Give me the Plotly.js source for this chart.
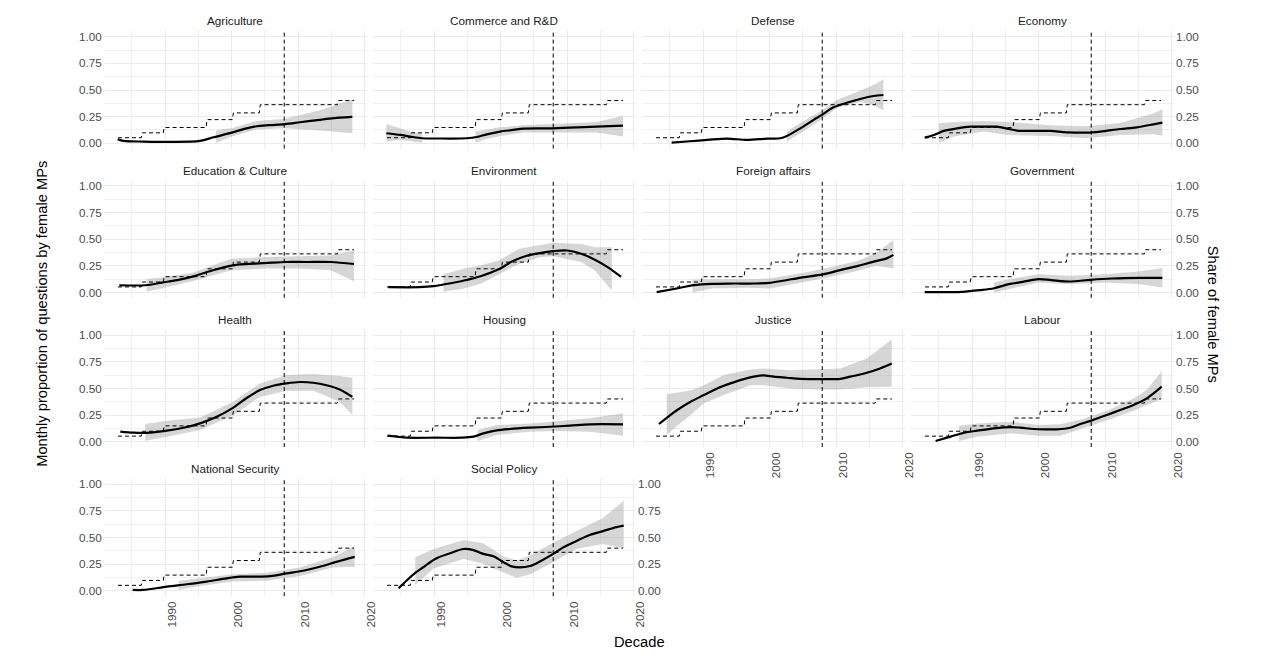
<!DOCTYPE html>
<html><head><meta charset="utf-8">
<script src="https://cdn.plot.ly/plotly-3.0.1.min.js"></script>
<style>html,body{margin:0;padding:0;background:#fff;} #chart{width:1280px;height:657px;}</style>
</head><body><div id="chart"></div>
<script>
// ---------------- DATA ----------------
const topics = ["Agriculture","Commerce and R&D","Defense","Economy","Education & Culture","Environment","Foreign affairs","Government","Health","Housing","Justice","Labour","National Security","Social Policy"];

const xTickVals = [1990, 2000, 2010, 2020];
const xTickText = ["1990", "2000", "2010", "2020"];
const yTickVals = [0, 0.25, 0.5, 0.75, 1];
const yTickText = ["0.00", "0.25", "0.50", "0.75", "1.00"];
const policyYear = 2007.9;

// share of female MPs (dashed step line)
const femYear  = [1982.9, 1986.4, 1986.55, 1989.7, 1989.85, 1996.15, 1996.3, 2000.1, 2000.25, 2004.15, 2004.3, 2015.9, 2016.05, 2018.4];
const femShare = [0.052, 0.052, 0.098, 0.098, 0.148, 0.148, 0.222, 0.222, 0.285, 0.285, 0.362, 0.362, 0.401, 0.401];

// Agriculture
const agriYear = [1982.85, 1983.75, 1986.75, 1990.75, 1995.25, 1997.25, 2000, 2002.25, 2003.75, 2005.75, 2008, 2010.25, 2013.25, 2016.25, 2018.15];
const agriFit  = [0.038, 0.022, 0.016, 0.013, 0.022, 0.056, 0.10, 0.14, 0.16, 0.17, 0.18, 0.197, 0.22, 0.24, 0.247];
const agriBandYear = [1997.65, 1998.8, 2000, 2003.75, 2008, 2013.25, 2018.15];
const agriLo = [0.006, 0.03, 0.0625, 0.13, 0.14, 0.12, 0.094];
const agriHi = [0.12, 0.135, 0.14, 0.21, 0.23, 0.31, 0.41];

// Commerce and R&D
const comYear = [1982.8, 1984.9, 1986.4, 1988.15, 1990.4, 1994.9, 1996.4, 1997.9, 1999.9, 2001.9, 2003.4, 2007.9, 2010.4, 2014.4, 2018.4];
const comFit  = [0.094, 0.078, 0.0625, 0.047, 0.045, 0.047, 0.059, 0.084, 0.11, 0.125, 0.1375, 0.14, 0.147, 0.156, 0.166];
const comBandYear = [1982.8, 1984.9, 1986.4, 1988.2, null, 1996.2, 1997.9, 1999.9, 2003.4, 2007.9, 2014.4, 2018.4];
const comLo = [0.016, 0.031, 0.02, 0.004, null, 0.005, 0.04, 0.069, 0.10, 0.10, 0.10, 0.0625];
const comHi = [0.18, 0.14, 0.11, 0.09, null, 0.11, 0.13, 0.15, 0.17, 0.18, 0.2, 0.256];

// Defense
const defYear = [1985.25, 1988, 1990.6, 1993.6, 1996.6, 1999.6, 2001.6, 2002.6, 2004.6, 2006.6, 2007.85, 2009.6, 2011.6, 2013.6, 2015.6, 2017.1];
const defFit  = [0.006, 0.019, 0.031, 0.044, 0.031, 0.044, 0.047, 0.069, 0.14, 0.22, 0.266, 0.3375, 0.38, 0.416, 0.444, 0.453];
const defBandYear = [2002.6, 2004.6, 2007.85, 2010.1, 2013.6, 2015.6, 2017.1];
const defLo = [0.016, 0.094, 0.225, 0.33, 0.39, 0.36, 0.31];
const defHi = [0.11, 0.19, 0.31, 0.406, 0.494, 0.547, 0.60];

// Economy
const ecoYear = [1982.85, 1984.25, 1985.75, 1987.75, 1989.75, 1992.25, 1993.75, 1995.25, 1996.75, 1999.25, 2001.75, 2004.25, 2007.25, 2009.25, 2012.25, 2014.75, 2017.25, 2018.6];
const ecoFit  = [0.053, 0.078, 0.116, 0.14, 0.156, 0.156, 0.156, 0.1375, 0.119, 0.116, 0.116, 0.103, 0.10, 0.11, 0.134, 0.15, 0.178, 0.194];
const ecoBandYear = [1985, 1987.25, 1991.75, 1995.25, 2001.75, 2007.25, 2012.25, 2017.25, 2018.6];
const ecoLo = [0.006, 0.0625, 0.11, 0.078, 0.069, 0.047, 0.078, 0.084, 0.07];
const ecoHi = [0.1875, 0.2, 0.21, 0.2, 0.17, 0.16, 0.19, 0.28, 0.32];

// Education & Culture
const eduYear = [1983.1, 1987, 1989.5, 1992, 1994.1, 1996.7, 1998.8, 2000.9, 2003.5, 2006.1, 2008.2, 2011.3, 2014.9, 2018.4];
const eduFit  = [0.068, 0.068, 0.093, 0.118, 0.149, 0.199, 0.236, 0.261, 0.27, 0.28, 0.286, 0.286, 0.286, 0.267];
const eduBandYear = [1987.2, 1990, 1994.1, 1999.9, 2005, 2010, 2014.9, 2018.4];
const eduLo = [0.006, 0.043, 0.106, 0.208, 0.224, 0.224, 0.208, 0.106];
const eduHi = [0.124, 0.146, 0.186, 0.317, 0.332, 0.34, 0.348, 0.394];

// Environment
const envYear = [1983.1, 1987.8, 1989.9, 1991.4, 1994.5, 1997.1, 1999.7, 2001.75, 2003.8, 2005.9, 2007.9, 2010, 2012.1, 2014.1, 2016.2, 2018.1];
const envFit  = [0.05, 0.05, 0.059, 0.075, 0.112, 0.155, 0.217, 0.292, 0.342, 0.37, 0.388, 0.394, 0.363, 0.31, 0.233, 0.146];
const envBandYear = [1991.4, 1994.5, 1997.1, 1999.7, 2002.8, 2005.9, 2007.9, 2012.1, 2014.1, 2016.7];
const envLo = [0.006, 0.037, 0.084, 0.168, 0.27, 0.33, 0.34, 0.286, 0.208, 0.02];
const envHi = [0.171, 0.224, 0.255, 0.30, 0.41, 0.447, 0.466, 0.456, 0.425, 0.425];

// Foreign affairs
const forYear = [1983, 1986, 1988.6, 1991.3, 1994.5, 1997.8, 1999.9, 2002, 2004.7, 2008, 2010.6, 2013.3, 2015.5, 2017.6, 2018.6];
const forFit  = [0.003, 0.0375, 0.069, 0.081, 0.084, 0.084, 0.09, 0.11, 0.14, 0.17, 0.21, 0.25, 0.2875, 0.32, 0.353];
const forBandYear = [1988.4, 1991.3, 1996.6, 1999.9, 2004.7, 2008, 2013.3, 2016, 2018.6];
const forLo = [0.0, 0.0375, 0.044, 0.038, 0.094, 0.13, 0.203, 0.25, 0.225];
const forHi = [0.12, 0.125, 0.125, 0.13, 0.18, 0.22, 0.297, 0.37, 0.49];

// Government
const govYear = [1982.85, 1988.5, 1991.2, 1993.3, 1995.5, 1997.6, 2000, 2001.9, 2004.6, 2007.8, 2011, 2015.3, 2018.6];
const govFit  = [0.003, 0.006, 0.022, 0.04, 0.078, 0.10, 0.125, 0.116, 0.103, 0.119, 0.131, 0.1375, 0.1375];
const govBandYear = [1993.3, 1995.5, 2000, 2004.6, 2010, 2015.3, 2018.6];
const govLo = [0.0, 0.031, 0.094, 0.078, 0.094, 0.078, 0.047];
const govHi = [0.094, 0.125, 0.17, 0.156, 0.17, 0.2, 0.23];

// Health
const heaYear = [1983.25, 1985.25, 1987.75, 1990.25, 1992.75, 1995.25, 1997.75, 2000.25, 2002.25, 2004.25, 2006.25, 2008.25, 2010.25, 2012.25, 2014.25, 2016.25, 2018.15];
const heaFit  = [0.094, 0.084, 0.084, 0.103, 0.131, 0.172, 0.234, 0.32, 0.41, 0.484, 0.525, 0.547, 0.56, 0.553, 0.53, 0.49, 0.42];
const heaBandYear = [1987, 1990.25, 1995.25, 2000.25, 2004.25, 2008.25, 2012.25, 2016.25, 2018.15];
const heaLo = [0.009, 0.047, 0.11, 0.25, 0.42, 0.478, 0.478, 0.375, 0.25];
const heaHi = [0.166, 0.197, 0.228, 0.375, 0.547, 0.625, 0.634, 0.616, 0.60];

// Housing
const houYear = [1983, 1984.4, 1985.9, 1990.4, 1994.15, 1995.9, 1997.4, 1999.4, 2001.4, 2004.4, 2007.4, 2010.4, 2013.4, 2018.4];
const houFit  = [0.056, 0.047, 0.0375, 0.0375, 0.0375, 0.047, 0.078, 0.106, 0.119, 0.131, 0.14, 0.15, 0.1625, 0.1625];
const houBandYear = [1996.5, 1999.4, 2004.4, 2007.9, 2013.4, 2018.4];
const houLo = [0.006, 0.0625, 0.094, 0.1, 0.094, 0.056];
const houHi = [0.11, 0.156, 0.17, 0.1875, 0.22, 0.266];

// Justice
const jusYear = [1983.35, 1984.6, 1986.1, 1988.1, 1990.1, 1992.1, 1994.1, 1996.1, 1997.6, 1999.1, 2000.6, 2002.6, 2004.6, 2007.6, 2010.6, 2012.1, 2014.6, 2016.6, 2018.35];
const jusFit  = [0.166, 0.228, 0.297, 0.375, 0.4375, 0.5, 0.547, 0.5875, 0.61, 0.622, 0.61, 0.6, 0.59, 0.5875, 0.59, 0.61, 0.647, 0.6875, 0.734];
const jusBandYear = [1984.5, 1986.1, 1988.1, 1990.1, 1993.1, 1997.1, 1999.1, 2003.1, 2007.6, 2010.6, 2014.6, 2018.35];
const jusLo = [0.0625, 0.15, 0.25, 0.36, 0.4375, 0.53, 0.53, 0.5, 0.49, 0.49, 0.51, 0.516];
const jusHi = [0.444, 0.46, 0.48, 0.53, 0.625, 0.678, 0.6875, 0.67, 0.678, 0.6875, 0.78, 0.96];

// Labour
const labYear = [1984.5, 1986.75, 1988.75, 1990.75, 1993.25, 1995.75, 1997.25, 1999.25, 2001.25, 2002.75, 2004.75, 2006.5, 2008, 2010.25, 2012.25, 2014.25, 2016.25, 2018.5];
const labFit  = [0.006, 0.047, 0.084, 0.103, 0.125, 0.137, 0.131, 0.119, 0.116, 0.116, 0.131, 0.17, 0.2, 0.25, 0.297, 0.344, 0.406, 0.516];
const labBandYear = [1988, 1990.75, 1995.75, 2000, 2003.25, 2006.5, 2010.25, 2014.25, 2016.25, 2018.5];
const labLo = [0.006, 0.047, 0.078, 0.056, 0.056, 0.125, 0.2, 0.29, 0.344, 0.4];
const labHi = [0.15, 0.17, 0.1875, 0.156, 0.1625, 0.21, 0.29, 0.406, 0.484, 0.66];

// National Security
const natYear = [1985.1, 1986.75, 1990.25, 1993.25, 1996.25, 1999.25, 2001.25, 2003.75, 2005.75, 2008.25, 2010.75, 2013.25, 2015.75, 2018.5];
const natFit  = [0.009, 0.009, 0.04, 0.062, 0.087, 0.118, 0.133, 0.133, 0.139, 0.164, 0.189, 0.226, 0.272, 0.319];
const natBandYear = [1992, 1995.25, 2000.25, 2005.25, 2010.25, 2015.25, 2018.5];
const natLo = [0.009, 0.046, 0.087, 0.096, 0.139, 0.22, 0.226];
const natHi = [0.096, 0.118, 0.155, 0.17, 0.22, 0.319, 0.42];

// Social Policy
const socYear = [1984.65, 1985.9, 1987.15, 1988.4, 1990.15, 1992.4, 1994.4, 1995.9, 1997.4, 1998.9, 2000.4, 2001.65, 2002.9, 2004.4, 2005.9, 2007.9, 2009.4, 2011.4, 2013.4, 2015.4, 2017.4, 2018.5];
const socFit  = [0.025, 0.1, 0.169, 0.224, 0.3, 0.353, 0.393, 0.383, 0.347, 0.325, 0.27, 0.23, 0.22, 0.233, 0.276, 0.347, 0.408, 0.469, 0.525, 0.561, 0.598, 0.613];
const socBandYear = [1987.15, 1989.9, 1994.4, 1997.4, 2000.4, 2002.4, 2004.4, 2007.9, 2011.4, 2015.4, 2018.5];
const socLo = [0.055, 0.209, 0.3, 0.255, 0.172, 0.123, 0.153, 0.27, 0.393, 0.439, 0.399];
const socHi = [0.316, 0.393, 0.478, 0.448, 0.325, 0.285, 0.331, 0.454, 0.561, 0.684, 0.847];

const fitYears = [agriYear, comYear, defYear, ecoYear, eduYear, envYear, forYear, govYear, heaYear, houYear, jusYear, labYear, natYear, socYear];
const fitValues = [agriFit, comFit, defFit, ecoFit, eduFit, envFit, forFit, govFit, heaFit, houFit, jusFit, labFit, natFit, socFit];
const bandYears = [agriBandYear, comBandYear, defBandYear, ecoBandYear, eduBandYear, envBandYear, forBandYear, govBandYear, heaBandYear, houBandYear, jusBandYear, labBandYear, natBandYear, socBandYear];
const bandLows = [agriLo, comLo, defLo, ecoLo, eduLo, envLo, forLo, govLo, heaLo, houLo, jusLo, labLo, natLo, socLo];
const bandHighs = [agriHi, comHi, defHi, ecoHi, eduHi, envHi, forHi, govHi, heaHi, houHi, jusHi, labHi, natHi, socHi];

// ---------------- LAYOUT / DRAW ----------------
const W = 1280, H = 657;
const FONT = 'Liberation Sans, Arial, sans-serif';
const panelW = 263.3, panelH = 117.2, colStep = 269, rowStep = 149.2, left0 = 103.7, top0 = 31.4;
const nCols = 4;
const grid = '#ebebeb';

const traces = [];
const layout = {
  width: W, height: H,
  margin: {l: 0, r: 0, t: 0, b: 0},
  paper_bgcolor: '#fff', plot_bgcolor: 'rgba(0,0,0,0)',
  showlegend: false,
  font: {family: FONT, color: '#4d4d4d'},
  annotations: [], shapes: []
};

const n = topics.length;
const lastRowStart = n - (n % nCols || nCols);
topics.forEach((name, i) => {
  const r = Math.floor(i / nCols), c = i % nCols;
  const xs = i === 0 ? '' : String(i + 1);
  const xa = 'x' + xs, ya = 'y' + xs;
  const left = left0 + c * colStep, top = top0 + r * rowStep;
  const isBottom = (i + nCols) >= n;
  const isLeft = c === 0;
  const isRight = (c === nCols - 1) || (i === n - 1);

  layout['xaxis' + xs] = {
    domain: [left / W, (left + panelW) / W], anchor: ya,
    range: [1980.75, 2020.35], fixedrange: true,
    tickmode: 'array', tickvals: xTickVals, ticktext: xTickText,
    showticklabels: isBottom, tickangle: -90, ticks: '',
    ticklabelshift: 7, ticklabelstandoff: 2,
    tickfont: {family: FONT, size: 11.7, color: '#4d4d4d'},
    showgrid: true, gridcolor: grid, gridwidth: 1,
    minor: {tickvals: [1985, 1995, 2005, 2015], showgrid: true, gridcolor: grid, gridwidth: 0.8, ticks: ''},
    zeroline: false, showline: false
  };
  layout['yaxis' + xs] = {
    domain: [1 - (top + panelH) / H, 1 - top / H], anchor: xa,
    range: [-0.05, 1.05], fixedrange: true,
    tickmode: 'array', tickvals: yTickVals, ticktext: yTickText,
    showticklabels: isLeft || isRight, side: isLeft ? 'left' : 'right', ticks: '',
    ticklabelstandoff: 1,
    tickfont: {family: FONT, size: 11.7, color: '#4d4d4d'},
    showgrid: true, gridcolor: grid, gridwidth: 1,
    minor: {tickvals: [0.125, 0.375, 0.625, 0.875], showgrid: true, gridcolor: grid, gridwidth: 0.8, ticks: ''},
    zeroline: false, showline: false
  };

  // ribbon segments (split on null)
  const by = bandYears[i], lo = bandLows[i], hi = bandHighs[i];
  let seg = [];
  const flush = () => {
    if (seg.length > 1) {
      const sx = seg.map(k => by[k]), sl = seg.map(k => lo[k]), sh = seg.map(k => hi[k]);
      traces.push({
        type: 'scatter', mode: 'lines', xaxis: xa, yaxis: ya,
        x: sx.concat(sx.slice().reverse()), y: sh.concat(sl.slice().reverse()),
        fill: 'toself', fillcolor: 'rgba(153,153,153,0.4)', line: {width: 0}, hoverinfo: 'skip'
      });
    }
    seg = [];
  };
  by.forEach((v, k) => { if (v === null) flush(); else seg.push(k); });
  flush();

  // fitted line
  traces.push({
    type: 'scatter', mode: 'lines', xaxis: xa, yaxis: ya,
    x: fitYears[i], y: fitValues[i],
    line: {color: '#000', width: 2.2, shape: 'spline', smoothing: 0.9}, hoverinfo: 'skip'
  });
  // female share
  traces.push({
    type: 'scatter', mode: 'lines', xaxis: xa, yaxis: ya,
    x: femYear, y: femShare,
    line: {color: '#000', width: 1, dash: '4px,3px'}, hoverinfo: 'skip'
  });
  // vertical line
  layout.shapes.push({
    type: 'line', xref: xa, yref: ya + ' domain', x0: policyYear, x1: policyYear, y0: 0, y1: 1,
    line: {color: '#000', width: 1, dash: '4px,3px'}, layer: 'above'
  });
  // strip title
  layout.annotations.push({
    text: name, xref: 'paper', yref: 'paper',
    x: (left + panelW / 2) / W, y: 1 - (top - 10.5) / H,
    xanchor: 'center', yanchor: 'middle', showarrow: false,
    font: {family: FONT, size: 11.7, color: '#1a1a1a'}
  });
});

const midY = 1 - (top0 + (3 * rowStep + panelH) / 2) / H;
layout.annotations.push(
  {text: 'Decade', xref: 'paper', yref: 'paper', x: 639 / W, y: 1 - 642 / H, xanchor: 'center', yanchor: 'middle', showarrow: false, font: {family: FONT, size: 14.7, color: '#000'}},
  {text: 'Monthly proportion of questions by female MPs', xref: 'paper', yref: 'paper', x: 42 / W, y: midY, xanchor: 'center', yanchor: 'middle', textangle: -90, showarrow: false, font: {family: FONT, size: 14.7, color: '#000'}},
  {text: 'Share of female MPs', xref: 'paper', yref: 'paper', x: 1213 / W, y: midY, xanchor: 'center', yanchor: 'middle', textangle: 90, showarrow: false, font: {family: FONT, size: 14.7, color: '#000'}}
);

Plotly.newPlot('chart', traces, layout, {staticPlot: true, displayModeBar: false});
</script>
</body></html>
